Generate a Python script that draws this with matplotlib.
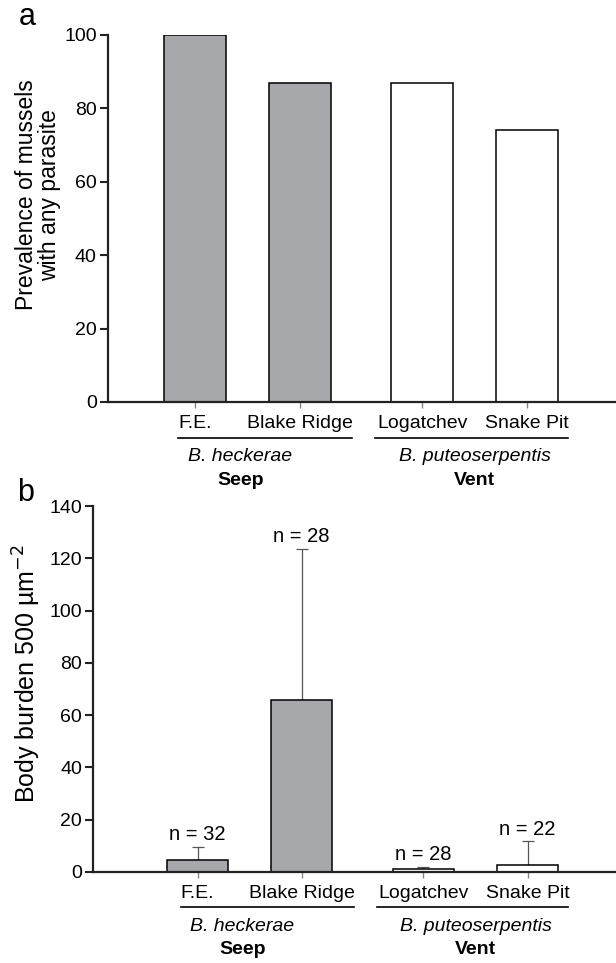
import numpy as np
import matplotlib.pyplot as plt
from matplotlib.transforms import blended_transform_factory

plt.rcParams['font.family'] = ['Liberation Sans', 'DejaVu Sans']

# podaci
lokacije = ['F.E.', 'Blake Ridge', 'Logatchev', 'Snake Pit']
pozicije = np.array([0.0, 1.0, 2.17, 3.17])
boje = ['#a7a8ab', '#a7a8ab', 'white', 'white']
prevalencija = [100, 87, 87, 74]
opterecenje = [4.6, 65.8, 1.0, 2.7]
greska_gore = [5.0, 57.7, 1.0, 9.0]
broj_n = [32, 28, 28, 22]
grupe = ['Seep', 'Vent']
vrste = ['B. heckerae', 'B. puteoserpentis']
grupe_opseg = [(-0.16, 1.5), (1.72, 3.56)]
grupe_tekst_x = [0.43, 2.67]

fig = plt.figure(figsize=(6.16, 9.63), dpi=100)
ax_a = fig.add_axes([0.1753, 0.5826, 0.8247, 0.3811])
ax_b = fig.add_axes([0.151, 0.0945, 0.849, 0.380])


def uredi_osu(ax, donji_x):
    ax.spines['top'].set_visible(False)
    ax.spines['right'].set_visible(False)
    for s in ['left', 'bottom']:
        ax.spines[s].set_linewidth(1.6)
        ax.spines[s].set_color('#222222')
    ax.tick_params(axis='y', direction='out', length=6, width=1.5,
                   labelsize=14, color='#222222', pad=2)
    ax.tick_params(axis='x', direction='out', length=4, width=1.0,
                   labelsize=14, color='#888888', pad=5.5)
    ax.set_xticks(pozicije)
    ax.set_xticklabels(lokacije)
    ax.set_xlim(donji_x, 4.02)
    tr = blended_transform_factory(ax.transData, ax.transAxes)
    for (x0, x1), tx, g, v in zip(grupe_opseg, grupe_tekst_x, grupe, vrste):
        ax.plot([x0, x1], [-0.097, -0.097], color='black', lw=1.2,
                transform=tr, clip_on=False)
        ax.text(tx, -0.149, v, transform=tr, ha='center', va='center',
                fontsize=14, style='italic')
        ax.text(tx, -0.213, g, transform=tr, ha='center', va='center',
                fontsize=14, fontweight='bold')


# panel a
ax_a.bar(pozicije, prevalencija, width=0.59, color=boje,
         edgecolor='black', linewidth=1.1)
ax_a.set_ylim(0, 100)
ax_a.set_yticks([0, 20, 40, 60, 80, 100])
uredi_osu(ax_a, -0.833)
fig.text(0.061, 0.7975, 'Prevalence of mussels\nwith any parasite',
         fontsize=16.5, rotation=90, ha='center', va='center',
         multialignment='center', linespacing=1.0)
fig.text(0.045, 0.982, 'a', fontsize=22, ha='center', va='center')

# panel b
ax_b.bar(pozicije, opterecenje, width=0.59, color=boje,
         edgecolor='black', linewidth=1.1, zorder=2)
ax_b.errorbar(pozicije, opterecenje,
              yerr=[np.zeros(len(opterecenje)), greska_gore],
              fmt='none', ecolor='#555555', elinewidth=0.9, capsize=4,
              capthick=0.9, zorder=1)
for x, y, e, n in zip(pozicije, opterecenje, greska_gore, broj_n):
    ax_b.annotate(f'n = {n}', (x, y + e), xytext=(0, 2),
                  textcoords='offset points', ha='center', va='bottom',
                  fontsize=14.5)
ax_b.set_ylim(0, 140)
ax_b.set_yticks(np.arange(0, 141, 20))
uredi_osu(ax_b, -1.005)
fig.text(0.043, 0.301, r'Body burden 500 µm$^{-2}$', fontsize=18,
         rotation=90, ha='center', va='center')
fig.text(0.041, 0.488, 'b', fontsize=22, ha='center', va='center')

plt.savefig('out.png', dpi=100)
